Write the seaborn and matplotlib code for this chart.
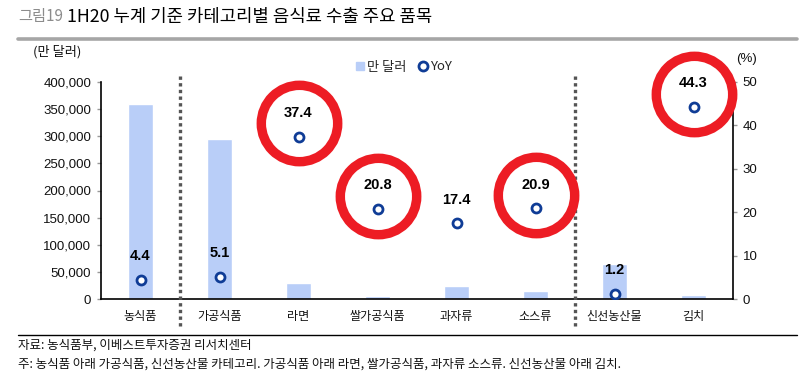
import numpy as np
import pandas as pd
import matplotlib
matplotlib.use("Agg")
import matplotlib.pyplot as plt
import matplotlib.transforms as mtransforms
from matplotlib.lines import Line2D
import seaborn as sns

categories = ["농식품", "가공식품", "라면", "쌀가공식품", "과자류", "소스류", "신선농산물", "김치"]
export_values = [360000, 295000, 30000, 5500, 24500, 14200, 64500, 7400]
yoy_values = [4.4, 5.1, 37.4, 20.8, 17.4, 20.9, 1.2, 44.3]
highlighted = ["라면", "쌀가공식품", "소스류", "김치"]
left_ticks = [0, 50000, 100000, 150000, 200000, 250000, 300000, 350000, 400000]
right_ticks = [0, 10, 20, 30, 40, 50]
separators_after = ["농식품", "소스류"]

sns.set_theme(style="white")
plt.rcParams["font.family"] = ["Noto Sans CJK KR", "DejaVu Sans"]
plt.rcParams["axes.unicode_minus"] = False

BAR = "#B9CEF8"
NAVY = "#0F3C96"
RED = "#ED1C24"
NUM_FONT = ["Liberation Sans"]

W, H = 805, 387
fig = plt.figure(figsize=(W / 100, H / 100), dpi=100)
ax = fig.add_axes([101 / W, 1 - 299 / H, (733 - 101) / W, (299 - 82) / H])

df = pd.DataFrame({"cat": categories, "val": export_values, "yoy": yoy_values})
sns.barplot(data=df, x="cat", y="val", color=BAR, width=0.32, saturation=1, ax=ax)
ax.set_xlim(-0.5, len(categories) - 0.5)
ax.set_ylim(0, 400000)
ax.set_yticks(left_ticks)
ax.set_yticklabels([f"{v:,}" for v in left_ticks], family=NUM_FONT, fontsize=9.5, color="#111111")
ax.set_xlabel("")
ax.set_ylabel("")
ax.set_xticks(range(len(categories)))
ax.set_xticklabels(categories, fontsize=8.7, color="#111111")
ax.tick_params(axis="x", length=0, pad=8)
ax.set_xticks(np.arange(-0.5, len(categories), 1.0), minor=True)
ax.tick_params(axis="x", which="minor", length=3, color="#999999", width=1, direction="out")
ax.tick_params(axis="y", length=3, color="#999999", width=1, direction="out", pad=4)
for s in ["top", "right"]:
    ax.spines[s].set_visible(False)
for s in ["left", "bottom"]:
    ax.spines[s].set_color("black")
    ax.spines[s].set_linewidth(1.2)

ax2 = ax.twinx()
ax2.set_ylim(0, 50)
ax2.set_yticks(right_ticks)
ax2.set_yticklabels([str(v) for v in right_ticks], family=NUM_FONT, fontsize=9.5, color="#111111")
ax2.tick_params(axis="y", length=3, color="#999999", width=1, direction="out", pad=4)
for s in ["top", "left", "bottom"]:
    ax2.spines[s].set_visible(False)
ax2.spines["right"].set_color("black")
ax2.spines["right"].set_linewidth(1.2)

xpos = np.arange(len(categories))
sns.scatterplot(x=xpos, y=yoy_values, ax=ax2, marker="o", s=42, facecolor="white",
                edgecolor=NAVY, linewidth=2.0, zorder=5, legend=False)
ax2.set_xlim(-0.5, len(categories) - 0.5)

for x, v in zip(xpos, yoy_values):
    ax2.annotate(f"{v:.1f}", (x, v), xytext=(0, 17), textcoords="offset points",
                 ha="center", va="center", fontsize=10.5, fontweight="bold",
                 family=NUM_FONT, color="black", zorder=6)

# red highlight circles
circ_tr = mtransforms.offset_copy(ax2.transData, fig=fig, x=0, y=9.5, units="points")
hx = [categories.index(c) for c in highlighted]
hy = [yoy_values[i] for i in hx]
ax2.plot(hx, hy, linestyle="none", marker="o", markersize=55, markerfacecolor="none",
         markeredgecolor=RED, markeredgewidth=6.8, transform=circ_tr, clip_on=False, zorder=7)

# dotted separators
sep_tr = mtransforms.blended_transform_factory(ax.transData, ax.transAxes)
for c in separators_after:
    xs = categories.index(c) + 0.5
    ax.plot([xs, xs], [-0.125, 1.042], transform=sep_tr, color="#555555", linestyle=(0, (1, 1)),
            linewidth=2.4, clip_on=False, zorder=4)

# unit labels
fig.text(57 / W, 1 - 52 / H, "(만 달러)", ha="center", va="center", fontsize=9.5, color="#111111")
fig.text(746 / W, 1 - 59 / H, "(%)", ha="center", va="center", fontsize=9.5, color="#111111",
         family=NUM_FONT)

# legend
handles = [Line2D([], [], linestyle="none", marker="s", markersize=6, markerfacecolor=BAR,
                  markeredgecolor=BAR),
           Line2D([], [], linestyle="none", marker="o", markersize=6.5, markerfacecolor="white",
                  markeredgecolor=NAVY, markeredgewidth=2)]
fig.legend(handles, ["만 달러", "YoY"], loc="center", bbox_to_anchor=(404 / W, 1 - 67 / H),
           ncol=2, frameon=False, fontsize=9.5, handlelength=0.6, handletextpad=0.2,
           columnspacing=1.0, borderpad=0)

# title
fig.text(18 / W, 1 - 17 / H, "그림19", ha="left", va="center", fontsize=11, color="#8C8C8C")
fig.text(67 / W, 1 - 17 / H, "1H20 누계 기준 카테고리별 음식료 수출 주요 품목", ha="left",
         va="center", fontsize=12.8, color="black")
fig.add_artist(Line2D([18 / W, 797 / W], [1 - 39 / H, 1 - 39 / H], color="#A6A6A6",
                      linewidth=2.6, transform=fig.transFigure))

# footer
fig.add_artist(Line2D([18 / W, 797 / W], [1 - 335 / H, 1 - 335 / H], color="black",
                      linewidth=1.0, transform=fig.transFigure))
fig.text(18 / W, 1 - 345 / H, "자료: 농식품부, 이베스트투자증권 리서치센터", ha="left", va="center",
         fontsize=9, color="#111111")
fig.text(18 / W, 1 - 364 / H,
         "주: 농식품 아래 가공식품, 신선농산물 카테고리. 가공식품 아래 라면, 쌀가공식품, 과자류 소스류. 신선농산물 아래 김치.",
         ha="left", va="center", fontsize=9, color="#111111")

fig.savefig("out.png", dpi=100)
